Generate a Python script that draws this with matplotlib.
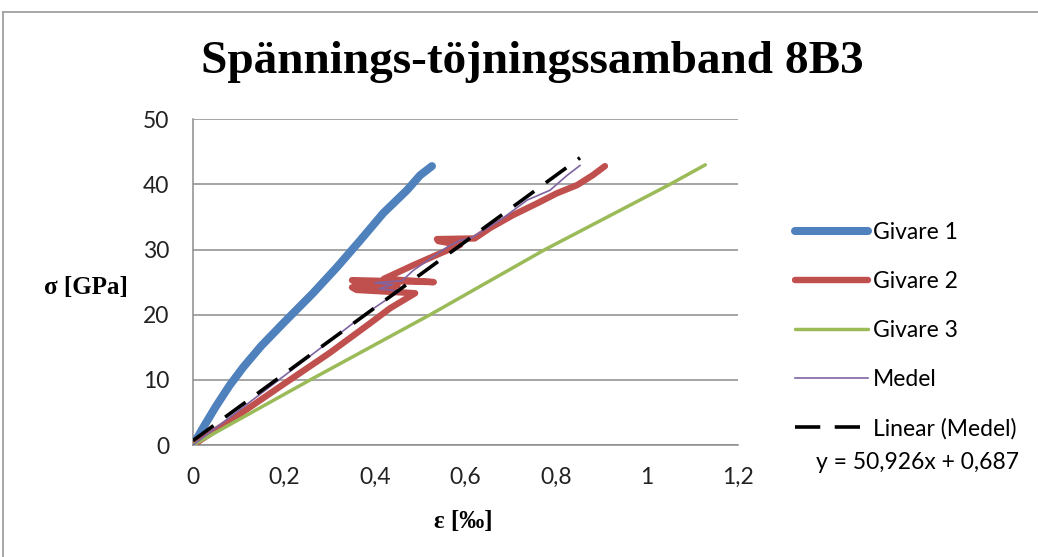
import matplotlib
matplotlib.use("Agg")
import matplotlib.pyplot as plt
from matplotlib.lines import Line2D
import numpy as np

# strain [‰] and stress [GPa] for each gauge
givare1_eps = [0, 0.025, 0.05, 0.08, 0.11, 0.15, 0.20, 0.264, 0.317, 0.368,
               0.419, 0.471, 0.50, 0.526]
givare1_sig = [0, 3.0, 5.9, 9.1, 11.9, 15.2, 18.8, 23.3, 27.3, 31.4,
               35.6, 39.1, 41.4, 42.8]

givare2_eps = [0, 0.10, 0.19, 0.30, 0.39, 0.434, 0.489, 0.36, 0.35, 0.45, 0.36, 0.35, 0.53,
               0.42, 0.485, 0.544, 0.588, 0.54, 0.537, 0.62, 0.654, 0.705, 0.758, 0.80,
               0.846, 0.88, 0.907]
givare2_sig = [0, 4.6, 8.9, 14.1, 18.7, 21.0, 23.3, 23.8, 24.2, 24.5, 24.9, 25.3, 25.0,
               25.5, 27.6, 29.4, 30.7, 31.3, 31.6, 31.7, 33.3, 35.3, 37.1, 38.6,
               39.9, 41.4, 42.8]

givare3_eps = [0, 0.258, 0.522, 0.775, 1.05, 1.128]
givare3_sig = [0, 10.0, 20.0, 30.0, 40.0, 43.0]

medel_eps = [0, 0.095, 0.189, 0.283, 0.377, 0.43, 0.455, 0.41, 0.44, 0.40, 0.46, 0.485,
             0.56, 0.588, 0.61, 0.676, 0.736, 0.786, 0.824, 0.852]
medel_sig = [0, 5.0, 10.0, 15.0, 20.0, 22.5, 23.6, 24.0, 24.6, 24.9, 25.2, 26.8,
             30.4, 31.4, 31.7, 34.5, 37.6, 39.1, 41.4, 42.9]

# linear trend of Medel
k, m = 50.926, 0.687

blue, red, green, purple = "#4F81BD", "#C0504D", "#9BBB59", "#8064A2"
grid_c = "#8c8c8c"
fs = 16.5

fig = plt.figure(figsize=(10.38, 5.57), dpi=100)
ax = fig.add_axes([0.186, 0.201, 0.525, 0.585])

ax.plot(givare1_eps, givare1_sig, color=blue, lw=5.8, solid_capstyle="round",
        solid_joinstyle="round", label="Givare 1", zorder=3)
ax.plot(givare2_eps, givare2_sig, color=red, lw=4.6, solid_capstyle="round",
        solid_joinstyle="round", label="Givare 2", zorder=3)
ax.plot(givare3_eps, givare3_sig, color=green, lw=2.5, solid_capstyle="round",
        label="Givare 3", zorder=3)
ax.plot(medel_eps, medel_sig, color=purple, lw=1.2, label="Medel", zorder=4)
tx = np.array([0, max(medel_eps)])
ax.plot(tx, k * tx + m, color="black", lw=2.6, dashes=(7, 4),
        label="Linear (Medel)", zorder=5)

ax.set_xlim(0, 1.2)
ax.set_ylim(0, 50)
ax.set_xticks(np.arange(0, 1.21, 0.2))
ax.set_xticklabels(["0", "0,2", "0,4", "0,6", "0,8", "1", "1,2"])
ax.set_yticks(range(0, 51, 10))
ax.grid(axis="y", color=grid_c, lw=1.1)
ax.set_axisbelow(True)
for s in ["top", "right"]:
    ax.spines[s].set_visible(False)
for s in ["left", "bottom"]:
    ax.spines[s].set_color(grid_c)
    ax.spines[s].set_linewidth(1.1)
ax.tick_params(length=0, labelsize=fs, colors="#222222")
ax.tick_params(axis="x", pad=16)
ax.tick_params(axis="y", pad=17)
for lab in ax.get_xticklabels() + ax.get_yticklabels():
    lab.set_family("Lato")

ax.set_xlabel("ε [‰]", family="Liberation Serif", weight="bold", fontsize=18, va="center")
ax.xaxis.set_label_coords(0.495, -0.236)
ax.set_ylabel("σ [GPa]", family="Liberation Serif", weight="bold", fontsize=18,
              rotation=0, ha="right", va="center")
ax.yaxis.set_label_coords(-0.119, 0.485)

fig.text(0.513, 0.889, "Spännings-töjningssamband 8B3", ha="center", va="center",
         family="Liberation Serif", weight="bold", fontsize=34)

leg = fig.legend(loc="upper left", bbox_to_anchor=(0.757, 0.618), frameon=False,
                 borderaxespad=0, handlelength=3.2, labelspacing=1.22, handletextpad=0.2,
                 prop={"family": "Lato", "size": fs})

fig.text(0.884, 0.169, "y = 50,926x + 0,687", ha="center", va="center",
         family="Lato", fontsize=fs)

# chart frame
fig.add_artist(Line2D([3 / 1038, 3 / 1038], [0, 1 - 12 / 557], color="#a0a0a0", lw=1.3))
fig.add_artist(Line2D([3 / 1038, 1], [1 - 12 / 557, 1 - 12 / 557], color="#a0a0a0", lw=1.3))

fig.savefig("out.png", dpi=100)
